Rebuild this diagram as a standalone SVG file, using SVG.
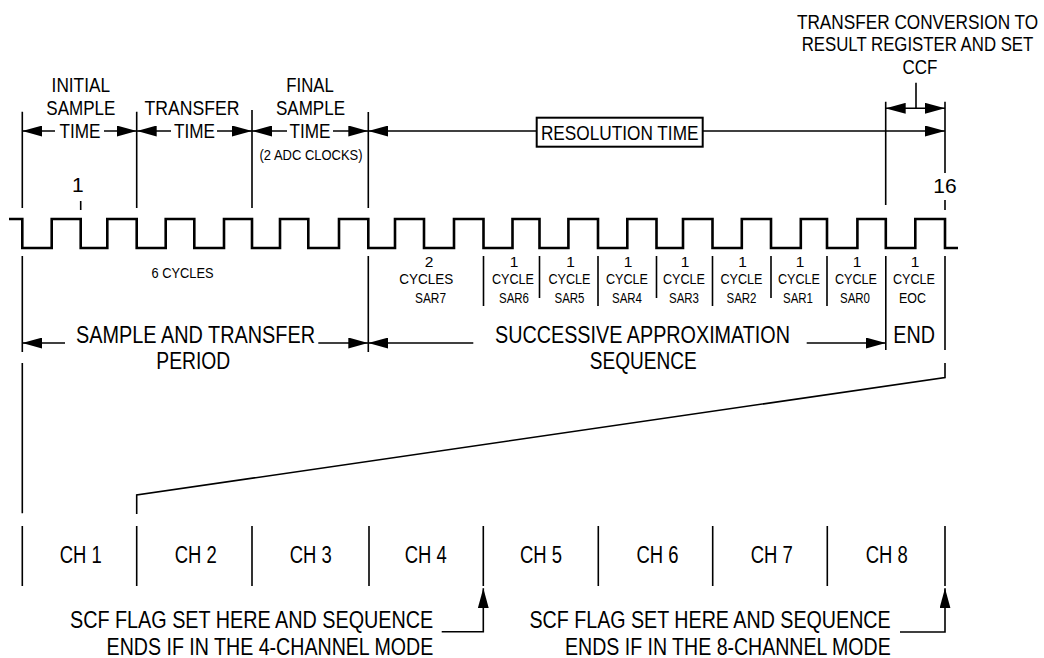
<svg xmlns="http://www.w3.org/2000/svg" width="1044" height="658" viewBox="0 0 1044 658">
<defs>
<marker id="ah" viewBox="0 0 20 11" markerWidth="20" markerHeight="11" refX="20" refY="5.5" orient="auto-start-reverse" markerUnits="userSpaceOnUse"><path d="M0,0 L20,5.5 L0,11 Z" fill="#000"/></marker>
</defs>
<style>
text{font-family:"Liberation Sans Narrow","Liberation Sans",Arial,sans-serif;fill:#000}
.t21{font-size:21px}
.t15{font-size:15.5px}
.t24{font-size:24px}
.t23{font-size:23px}
.c{text-anchor:middle}
.r{text-anchor:end}
.ln{stroke:#000;stroke-width:1.6;fill:none}
.ar{stroke:#000;stroke-width:1.6;fill:none}
.both{marker-start:url(#ah);marker-end:url(#ah)}
.s{marker-start:url(#ah)}
.e{marker-end:url(#ah)}
.wave{stroke:#000;stroke-width:2.6;fill:none;stroke-linejoin:miter}
.box{stroke:#000;stroke-width:2;fill:#fff}
</style>
<rect width="1044" height="658" fill="#fff"/>

<g id="clock">
<path class="wave" d="M9,219 H22.3 V248 H51.7 V219 H80.7 V248 H107.3 V219 H136.7 V248 H165.7 V219 H194.3 V248 H224 V219 H252 V248 H280 V219 H308.3 V248 H339 V219 H368.3 V248 H395 V219 H424 V248 H454 V219 H483.5 V248 H512.5 V219 H539.5 V248 H568.4 V219 H598 V248 H627.3 V219 H656.5 V248 H683 V219 H712.5 V248 H741.8 V219 H771 V248 H800.8 V219 H827 V248 H857.4 V219 H885.8 V248 H915.3 V219 H945 V248 H958"/>
<text class="t21 c" x="77.8" y="192">1</text>
<text class="t21 c" x="945" y="193">16</text>
</g>

<g id="initial-sample-time">
<text class="t21 c" x="80.8" y="91.7" textLength="58.4" lengthAdjust="spacingAndGlyphs">INITIAL</text>
<text class="t21 c" x="80.8" y="115" textLength="69" lengthAdjust="spacingAndGlyphs">SAMPLE</text>
<text class="t21 c" x="80" y="138.3" textLength="41" lengthAdjust="spacingAndGlyphs">TIME</text>
</g>
<g id="transfer-time">
<text class="t21 c" x="192" y="115" textLength="95" lengthAdjust="spacingAndGlyphs">TRANSFER</text>
<text class="t21 c" x="194.5" y="138.3" textLength="41" lengthAdjust="spacingAndGlyphs">TIME</text>
</g>
<g id="final-sample-time">
<text class="t21 c" x="310" y="91.7" textLength="47.5" lengthAdjust="spacingAndGlyphs">FINAL</text>
<text class="t21 c" x="310.5" y="115" textLength="69" lengthAdjust="spacingAndGlyphs">SAMPLE</text>
<text class="t21 c" x="310" y="138.3" textLength="41" lengthAdjust="spacingAndGlyphs">TIME</text>
<text class="t15 c" x="311" y="160" textLength="103" lengthAdjust="spacingAndGlyphs">(2 ADC CLOCKS)</text>
</g>
<g id="resolution-time">
<rect class="box" x="536.7" y="117.7" width="166" height="29"/>
<text class="t21 c" x="619.7" y="139.5" textLength="157.6" lengthAdjust="spacingAndGlyphs">RESOLUTION TIME</text>
</g>
<g id="transfer-conversion">
<text class="t21 c" transform="translate(917.5,29.3) scale(0.82,1)">TRANSFER CONVERSION TO</text>
<text class="t21 c" transform="translate(917.5,51) scale(0.8,1)">RESULT REGISTER AND SET</text>
<text class="t21 c" x="920" y="74" textLength="35" lengthAdjust="spacingAndGlyphs">CCF</text>
</g>

<g id="cycle-labels">
<text class="t15 c" x="182.5" y="278.3" textLength="62" lengthAdjust="spacingAndGlyphs">6 CYCLES</text>
<text class="t15 c" x="429" y="266.7">2</text>
<text class="t15 c" x="426.3" y="284.3" textLength="54" lengthAdjust="spacingAndGlyphs">CYCLES</text>
<text class="t15 c" x="430.5" y="302.7" textLength="31" lengthAdjust="spacingAndGlyphs">SAR7</text>
<text class="t15 c" x="514" y="266.7">1</text>
<text class="t15 c" x="513" y="284.3" textLength="42" lengthAdjust="spacingAndGlyphs">CYCLE</text>
<text class="t15 c" x="514" y="302.7" textLength="30" lengthAdjust="spacingAndGlyphs">SAR6</text>
<text class="t15 c" x="570.5" y="266.7">1</text>
<text class="t15 c" x="569.5" y="284.3" textLength="42" lengthAdjust="spacingAndGlyphs">CYCLE</text>
<text class="t15 c" x="569.5" y="302.7" textLength="30" lengthAdjust="spacingAndGlyphs">SAR5</text>
<text class="t15 c" x="628" y="266.7">1</text>
<text class="t15 c" x="627" y="284.3" textLength="42" lengthAdjust="spacingAndGlyphs">CYCLE</text>
<text class="t15 c" x="627" y="302.7" textLength="30" lengthAdjust="spacingAndGlyphs">SAR4</text>
<text class="t15 c" x="685" y="266.7">1</text>
<text class="t15 c" x="684" y="284.3" textLength="42" lengthAdjust="spacingAndGlyphs">CYCLE</text>
<text class="t15 c" x="684" y="302.7" textLength="30" lengthAdjust="spacingAndGlyphs">SAR3</text>
<text class="t15 c" x="742.5" y="266.7">1</text>
<text class="t15 c" x="741.5" y="284.3" textLength="42" lengthAdjust="spacingAndGlyphs">CYCLE</text>
<text class="t15 c" x="741.5" y="302.7" textLength="30" lengthAdjust="spacingAndGlyphs">SAR2</text>
<text class="t15 c" x="800" y="266.7">1</text>
<text class="t15 c" x="799" y="284.3" textLength="42" lengthAdjust="spacingAndGlyphs">CYCLE</text>
<text class="t15 c" x="798" y="302.7" textLength="30" lengthAdjust="spacingAndGlyphs">SAR1</text>
<text class="t15 c" x="857" y="266.7">1</text>
<text class="t15 c" x="856" y="284.3" textLength="42" lengthAdjust="spacingAndGlyphs">CYCLE</text>
<text class="t15 c" x="855" y="302.7" textLength="30" lengthAdjust="spacingAndGlyphs">SAR0</text>
<text class="t15 c" x="915" y="266.7">1</text>
<text class="t15 c" x="914" y="284.3" textLength="42" lengthAdjust="spacingAndGlyphs">CYCLE</text>
<text class="t15 c" x="912.5" y="302.7" textLength="27" lengthAdjust="spacingAndGlyphs">EOC</text>
</g>

<g id="sample-transfer-period">
<text class="t23 c" x="195.5" y="343" textLength="239" lengthAdjust="spacingAndGlyphs">SAMPLE AND TRANSFER</text>
<text class="t23 c" x="193.3" y="369" textLength="74" lengthAdjust="spacingAndGlyphs">PERIOD</text>
</g>
<g id="successive-approximation">
<text class="t23 c" x="642.5" y="343" textLength="295" lengthAdjust="spacingAndGlyphs">SUCCESSIVE APPROXIMATION</text>
<text class="t23 c" x="643.3" y="369" textLength="107" lengthAdjust="spacingAndGlyphs">SEQUENCE</text>
</g>
<g id="end">
<text class="t23 c" x="914.2" y="343" textLength="41.7" lengthAdjust="spacingAndGlyphs">END</text>
</g>

<g id="channels">
<text class="t23 c" x="80.8" y="562.7" textLength="42" lengthAdjust="spacingAndGlyphs">CH 1</text>
<text class="t23 c" x="195.8" y="562.7" textLength="42" lengthAdjust="spacingAndGlyphs">CH 2</text>
<text class="t23 c" x="310.8" y="562.7" textLength="42" lengthAdjust="spacingAndGlyphs">CH 3</text>
<text class="t23 c" x="425.8" y="562.7" textLength="42" lengthAdjust="spacingAndGlyphs">CH 4</text>
<text class="t23 c" x="541" y="562.7" textLength="42" lengthAdjust="spacingAndGlyphs">CH 5</text>
<text class="t23 c" x="657.5" y="562.7" textLength="42" lengthAdjust="spacingAndGlyphs">CH 6</text>
<text class="t23 c" x="771.7" y="562.7" textLength="42" lengthAdjust="spacingAndGlyphs">CH 7</text>
<text class="t23 c" x="886.7" y="562.7" textLength="42" lengthAdjust="spacingAndGlyphs">CH 8</text>
</g>

<g id="scf-4-channel">
<text class="t24 r" x="433.3" y="628.3" textLength="363.3" lengthAdjust="spacingAndGlyphs">SCF FLAG SET HERE AND SEQUENCE</text>
<text class="t24 r" x="433.3" y="655" textLength="326.7" lengthAdjust="spacingAndGlyphs">ENDS IF IN THE 4-CHANNEL MODE</text>
</g>
<g id="scf-8-channel">
<text class="t24 r" x="890.7" y="628.3" textLength="361.3" lengthAdjust="spacingAndGlyphs">SCF FLAG SET HERE AND SEQUENCE</text>
<text class="t24 r" x="890.7" y="655" textLength="325.7" lengthAdjust="spacingAndGlyphs">ENDS IF IN THE 8-CHANNEL MODE</text>
</g>

<g id="connectors">
<path class="ln" d="M22.3,111.7 V208 M136.7,111.7 V208 M252,110 V208 M368.3,112 V208 M885.7,101.7 V205 M945,101.7 V173 M80.7,201 V210 M945,200 V210"/>
<path class="ln" d="M22.3,256 V352 M22.3,363 V513.3 M368.3,256 V352 M483.5,256 V306 M539.5,256 V298 M598,256 V306 M656.5,256 V298 M712.5,256 V306 M771,256 V298 M827,256 V306 M885.8,256 V350 M945,256 V350"/>
<path class="ln" d="M945,363 V377.5 L136.7,495 V514"/>
<path class="ln" d="M22.3,526 V586 M136.7,526 V586 M252,526 V586 M369,526 V586 M483.3,526 V586 M598.3,526 V586 M712.7,526 V586 M827.3,526 V586 M945,526 V586"/>
<path class="ar s" d="M22.3,131 H55"/>
<path class="ar e" d="M104,131 H136.7"/>
<path class="ar s" d="M136.7,131 H171"/>
<path class="ar e" d="M217,131 H252"/>
<path class="ar s" d="M252,131 H287"/>
<path class="ar e" d="M333,131 H368.3"/>
<path class="ar s" d="M368.3,131 H536.7"/>
<path class="ar e" d="M702.7,131 H945"/>
<path class="ar both" d="M885.7,108.3 H945"/>
<path class="ln" d="M916,82.7 V108.3"/>
<path class="ar s" d="M22.3,343 H65"/>
<path class="ar e" d="M318.3,343 H368.3"/>
<path class="ar s" d="M368.3,343 H473.3"/>
<path class="ar e" d="M806.7,343 H885.8"/>
<path class="ar e" d="M441.7,631.7 H483.3 V588.3"/>
<path class="ar e" d="M900,632 H945 V588.3"/>
</g>
</svg>
